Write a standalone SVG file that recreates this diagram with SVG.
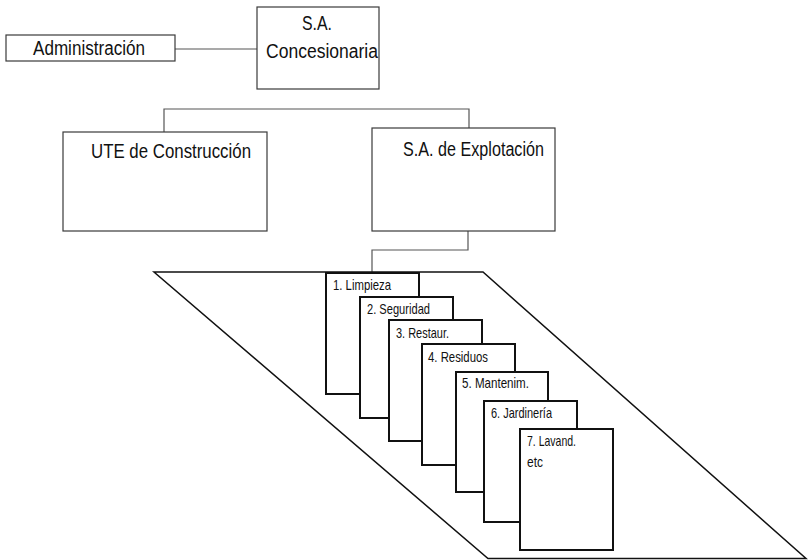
<svg xmlns="http://www.w3.org/2000/svg" width="810" height="560" viewBox="0 0 810 560">
<style>
.box{fill:#fff;stroke:#3a3a3a;stroke-width:1.2}
.card{fill:#fff;stroke:#111;stroke-width:2}
.conn{fill:none;stroke:#555;stroke-width:1.2}
.lbl{font-family:"Liberation Sans",Arial,sans-serif;font-size:19.5px;fill:#111}
.clbl{font-family:"Liberation Sans",Arial,sans-serif;font-size:14.5px;fill:#111}
</style>
<rect width="810" height="560" fill="#fff"/>
<g id="connectors">
<path class="conn" d="M175 49H257"/>
<path class="conn" d="M164 132V109H469V128"/>
<path class="conn" d="M468 231V250H372V273"/>
</g>
<g id="area">
<polygon points="154,272 483,272 806,558.5 488,558.5" fill="none" stroke="#111" stroke-width="1.5"/>
</g>
<g id="administracion">
<rect class="box" x="6" y="35" width="169" height="26"/>
<text class="lbl" x="33" y="55" textLength="112" lengthAdjust="spacingAndGlyphs">Administración</text>
</g>
<g id="concesionaria">
<rect class="box" x="257" y="7" width="122" height="82"/>
<text class="lbl" x="302" y="30" textLength="30" lengthAdjust="spacingAndGlyphs">S.A.</text>
<text class="lbl" x="266" y="58" textLength="112" lengthAdjust="spacingAndGlyphs">Concesionaria</text>
</g>
<g id="ute">
<rect class="box" x="63" y="132" width="204" height="99"/>
<text class="lbl" x="91" y="158" textLength="160" lengthAdjust="spacingAndGlyphs">UTE de Construcción</text>
</g>
<g id="explotacion">
<rect class="box" x="372" y="128" width="183" height="103"/>
<text class="lbl" x="403" y="156" textLength="141" lengthAdjust="spacingAndGlyphs">S.A. de Explotación</text>
</g>
<g id="card1">
<rect class="card" x="326" y="273" width="93" height="121"/>
<text class="clbl" x="333" y="290" textLength="58" lengthAdjust="spacingAndGlyphs">1. Limpieza</text>
</g>
<g id="card2">
<rect class="card" x="360" y="297" width="93" height="121"/>
<text class="clbl" x="367" y="314" textLength="63" lengthAdjust="spacingAndGlyphs">2. Seguridad</text>
</g>
<g id="card3">
<rect class="card" x="389" y="320" width="93" height="121"/>
<text class="clbl" x="396" y="338" textLength="53" lengthAdjust="spacingAndGlyphs">3. Restaur.</text>
</g>
<g id="card4">
<rect class="card" x="422" y="344" width="93" height="121"/>
<text class="clbl" x="428" y="362" textLength="60" lengthAdjust="spacingAndGlyphs">4. Residuos</text>
</g>
<g id="card5">
<rect class="card" x="456" y="372" width="92" height="120"/>
<text class="clbl" x="462" y="388" textLength="67" lengthAdjust="spacingAndGlyphs">5. Mantenim.</text>
</g>
<g id="card6">
<rect class="card" x="484" y="401" width="93" height="121"/>
<text class="clbl" x="491" y="418" textLength="61" lengthAdjust="spacingAndGlyphs">6. Jardinería</text>
</g>
<g id="card7">
<rect class="card" x="520" y="429" width="93" height="121"/>
<text class="clbl" x="527" y="446" textLength="49" lengthAdjust="spacingAndGlyphs">7. Lavand.</text>
<text class="clbl" x="527" y="467" textLength="16" lengthAdjust="spacingAndGlyphs">etc</text>
</g>
</svg>
